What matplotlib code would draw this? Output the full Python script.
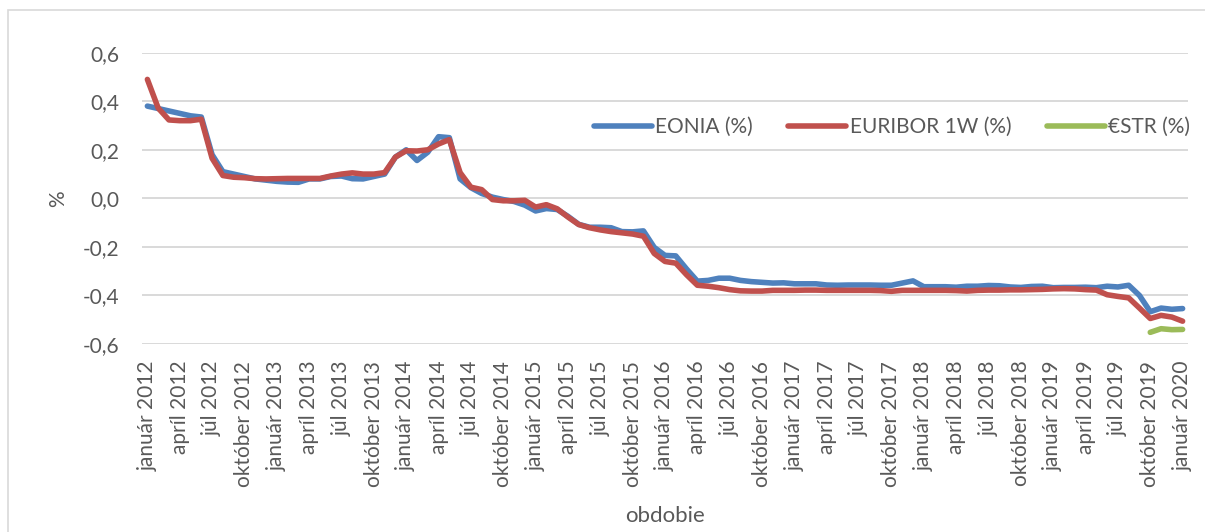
import numpy as np
import matplotlib
matplotlib.use("Agg")
import matplotlib.pyplot as plt
from matplotlib.patches import Rectangle

plt.rcParams['font.family'] = ['Lato', 'DejaVu Sans']

# input data (monthly, január 2012 - január 2020)
month_names = ['január', 'február', 'marec', 'apríl', 'máj', 'jún',
               'júl', 'august', 'september', 'október', 'november', 'december']
years = list(range(2012, 2021))
periods = [f'{m} {y}' for y in years for m in month_names][:97]

eonia = [
    0.38, 0.37, 0.36, 0.35, 0.34, 0.335, 0.18, 0.11, 0.10, 0.09, 0.08, 0.075,
    0.07, 0.067, 0.066, 0.08, 0.08, 0.09, 0.092, 0.081, 0.08, 0.09, 0.10, 0.17,
    0.20, 0.156, 0.19, 0.254, 0.25, 0.08, 0.044, 0.02, 0.005, -0.005, -0.013, -0.028,
    -0.052, -0.042, -0.046, -0.074, -0.107, -0.119, -0.119, -0.121, -0.137, -0.138, -0.134, -0.202,
    -0.235, -0.237, -0.291, -0.341, -0.338, -0.329, -0.329, -0.338, -0.343, -0.346, -0.349, -0.348,
    -0.352, -0.352, -0.352, -0.357, -0.358, -0.357, -0.357, -0.357, -0.358, -0.358, -0.349, -0.340,
    -0.364, -0.364, -0.364, -0.366, -0.362, -0.362, -0.359, -0.360, -0.365, -0.367, -0.363, -0.362,
    -0.368, -0.367, -0.367, -0.366, -0.368, -0.362, -0.365, -0.358, -0.400, -0.467, -0.452, -0.457,
    -0.454,
]

euribor_1w = [
    0.49, 0.372, 0.323, 0.32, 0.32, 0.326, 0.165, 0.094, 0.087, 0.085, 0.081, 0.080,
    0.081, 0.082, 0.082, 0.082, 0.082, 0.092, 0.10, 0.105, 0.10, 0.10, 0.106, 0.17,
    0.196, 0.195, 0.20, 0.224, 0.242, 0.106, 0.046, 0.036, -0.005, -0.01, -0.01, -0.008,
    -0.036, -0.026, -0.043, -0.077, -0.108, -0.121, -0.13, -0.137, -0.142, -0.147, -0.156, -0.227,
    -0.26, -0.267, -0.315, -0.358, -0.362, -0.368, -0.376, -0.381, -0.382, -0.382, -0.379, -0.379,
    -0.379, -0.378, -0.378, -0.379, -0.379, -0.379, -0.379, -0.379, -0.380, -0.383, -0.379, -0.379,
    -0.379, -0.379, -0.379, -0.380, -0.382, -0.379, -0.378, -0.378, -0.377, -0.377, -0.376, -0.375,
    -0.373, -0.372, -0.373, -0.376, -0.378, -0.397, -0.404, -0.41, -0.452, -0.495, -0.482, -0.489,
    -0.506,
]

estr = [np.nan] * 93 + [-0.552, -0.537, -0.541, -0.540]

x = np.arange(len(periods))

fig = plt.figure(figsize=(12.05, 5.32), dpi=100)
ax = fig.add_axes([142 / 1205, 1 - 344 / 532, 1046 / 1205, 291.3 / 532])

# chart frame (Excel style)
fig.patches.append(Rectangle((8 / 1205, -0.1), 1.2, 1.1 - 10 / 532, transform=fig.transFigure,
                             fill=False, edgecolor='#d9d9d9', linewidth=1.2))

lw = 4.0
ax.plot(x, eonia, color='#4f81bd', linewidth=lw, label='EONIA (%)',
        solid_joinstyle='round', solid_capstyle='round')
ax.plot(x, euribor_1w, color='#c0504d', linewidth=lw, label='EURIBOR 1W (%)',
        solid_joinstyle='round', solid_capstyle='round')
ax.plot(x, estr, color='#9bbb59', linewidth=lw, label='€STR (%)',
        solid_joinstyle='round', solid_capstyle='round')

ax.set_xlim(-0.5, len(periods) - 0.5)
ax.set_ylim(-0.6, 0.6)
yt = np.arange(-0.6, 0.61, 0.2)
ax.set_yticks(yt)
ax.set_yticklabels([f'{v:.1f}'.replace('.', ',').replace('-0,0', '0,0') for v in yt])
ax.set_xticks(x[::3])
ax.set_xticklabels(periods[::3], rotation=90)

ax.grid(axis='y', color='#d9d9d9', linewidth=1.4)
ax.set_axisbelow(True)
for s in ax.spines.values():
    s.set_visible(False)
ax.tick_params(axis='both', length=0, colors='#595959', labelsize=15)
ax.tick_params(axis='y', pad=16)
ax.tick_params(axis='x', pad=12)

ax.set_ylabel('%', color='#595959', fontsize=15)
ax.yaxis.set_label_coords(-0.071, 0.5)
ax.set_xlabel('obdobie', color='#595959', fontsize=16, labelpad=14)

leg = ax.legend(ncol=3, loc='center right', bbox_to_anchor=(1.002, 0.745), frameon=False,
                fontsize=15, handlelength=2.8, handletextpad=0.15, columnspacing=1.7,
                borderaxespad=0, borderpad=0)
for t in leg.get_texts():
    t.set_color('#595959')
for h in leg.legend_handles:
    h.set_solid_capstyle('round')

fig.savefig('out.png', dpi=100)
